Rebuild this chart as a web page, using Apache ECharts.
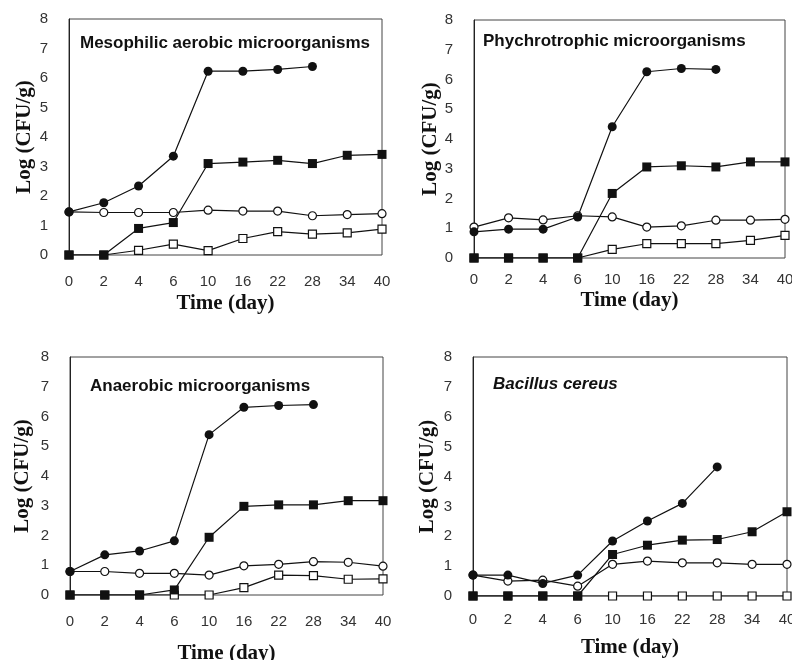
<!DOCTYPE html>
<html>
<head>
<meta charset="utf-8">
<script src="https://cdn.jsdelivr.net/npm/echarts@6/dist/echarts.min.js"></script>
<style>
    html, body { margin: 0; padding: 0; background: #fff; }
    #chart { width: 792px; height: 660px; }
</style>
</head>
<body>
<div id="chart"></div>
<script>
    // x tick labels (storage day)
    var days = ['0', '2', '4', '6', '10', '16', '22', '28', '34', '40'];

    // Mesophilic aerobic
    var mesoFilledCircle = [1.46, 1.77, 2.34, 3.35, 6.23, 6.23, 6.29, 6.39];
    var mesoFilledSquare = [0, 0, 0.90, 1.10, 3.10, 3.15, 3.21, 3.10, 3.38, 3.41];
    var mesoOpenCircle = [1.46, 1.44, 1.44, 1.44, 1.52, 1.49, 1.49, 1.33, 1.37, 1.40];
    var mesoOpenSquare = [0, 0, 0.16, 0.37, 0.15, 0.56, 0.79, 0.71, 0.75, 0.88];

    // Phychrotrophic
    var phyFilledCircle = [0.88, 0.97, 0.97, 1.38, 4.41, 6.26, 6.37, 6.34];
    var phyFilledSquare = [0, 0, 0, 0, 2.17, 3.06, 3.10, 3.06, 3.23, 3.23];
    var phyOpenCircle = [1.04, 1.35, 1.28, 1.42, 1.38, 1.04, 1.08, 1.27, 1.27, 1.30];
    var phyOpenSquare = [0, 0, 0, 0, 0.29, 0.48, 0.48, 0.48, 0.59, 0.76];

    // Anaerobic
    var anaFilledCircle = [0.79, 1.35, 1.48, 1.82, 5.39, 6.31, 6.37, 6.40];
    var anaFilledSquare = [0, 0, 0, 0.17, 1.94, 2.98, 3.03, 3.03, 3.17, 3.17];
    var anaOpenCircle = [0.79, 0.79, 0.73, 0.73, 0.67, 0.98, 1.03, 1.12, 1.10, 0.97];
    var anaOpenSquare = [0, 0, 0, 0, 0, 0.25, 0.67, 0.65, 0.53, 0.54];

    // Bacillus cereus
    var bcFilledCircle = [0.70, 0.70, 0.42, 0.70, 1.84, 2.51, 3.10, 4.32];
    var bcFilledSquare = [0, 0, 0, 0, 1.39, 1.70, 1.87, 1.89, 2.15, 2.82];
    var bcOpenCircle = [0.70, 0.50, 0.53, 0.33, 1.06, 1.17, 1.11, 1.11, 1.06, 1.06];
    var bcOpenSquare = [0, 0, 0, 0, 0, 0, 0, 0, 0, 0];

    var panelTitles = ['Mesophilic aerobic microorganisms', 'Phychrotrophic microorganisms',
        'Anaerobic microorganisms', 'Bacillus cereus'];

    var ink = '#111';

    var panels = [
        { grid: { left: 69, top: 19, width: 313, height: 236 }, nameGap: 38, labelMargin: 19, yGap: 34,
          title: { left: 80, top: 35 }, data: [mesoOpenSquare, mesoOpenCircle, mesoFilledSquare, mesoFilledCircle] },
        { grid: { left: 474, top: 20, width: 311, height: 238 }, nameGap: 32, labelMargin: 14, yGap: 33,
          title: { left: 483, top: 33 }, data: [phyOpenSquare, phyOpenCircle, phyFilledSquare, phyFilledCircle] },
        { grid: { left: 70, top: 357, width: 313, height: 238 }, nameGap: 48, labelMargin: 19, yGap: 37,
          title: { left: 90, top: 378 }, data: [anaOpenSquare, anaOpenCircle, anaFilledSquare, anaFilledCircle] },
        { grid: { left: 473, top: 357, width: 314, height: 239 }, nameGap: 41, labelMargin: 16, yGap: 35,
          title: { left: 493, top: 376 }, data: [bcOpenSquare, bcOpenCircle, bcFilledSquare, bcFilledCircle] }
    ];

    // marker look for each of the four series, in drawing order
    var markers = [
        { symbol: 'rect', size: 8, open: true },
        { symbol: 'circle', size: 8, open: true },
        { symbol: 'rect', size: 9, open: false },
        { symbol: 'circle', size: 9, open: false }
    ];

    var option = { animation: false, grid: [], xAxis: [], yAxis: [], title: [], series: [] };

    for (var i = 0; i < panels.length; i++) {
        var p = panels[i];
        var g = p.grid;
        option.grid.push({
            left: g.left, top: g.top, width: g.width, height: g.height,
            outerBoundsMode: 'none', // keep the plot box where it is, even if labels run past the edge
            show: true, borderColor: '#444', borderWidth: 1, backgroundColor: 'transparent'
        });
        option.xAxis.push({
            type: 'category', gridIndex: i, data: days, boundaryGap: false,
            name: 'Time (day)', nameLocation: 'middle', nameGap: p.nameGap,
            nameTextStyle: { fontFamily: 'Liberation Serif', fontWeight: 'bold', fontSize: 21, color: '#111' },
            axisLine: { show: false }, axisTick: { show: false },
            axisLabel: { fontFamily: 'Liberation Sans', fontSize: 15, color: '#333', margin: p.labelMargin },
            splitLine: { show: false }
        });
        option.yAxis.push({
            type: 'value', gridIndex: i, min: 0, max: 8, interval: 1,
            name: 'Log (CFU/g)', nameLocation: 'middle', nameGap: p.yGap,
            nameTextStyle: { fontFamily: 'Liberation Serif', fontWeight: 'bold', fontSize: 21, color: '#111' },
            axisLine: { show: true, lineStyle: { color: '#222', width: 1 } }, axisTick: { show: false },
            axisLabel: { fontFamily: 'Liberation Sans', fontSize: 15, color: '#333', margin: 21 },
            splitLine: { show: false }
        });
        option.title.push({
            text: panelTitles[i], left: p.title.left, top: p.title.top, padding: 0,
            textStyle: {
                fontFamily: 'Liberation Sans', fontWeight: 'bold', fontSize: 17, color: '#111',
                fontStyle: i === 3 ? 'italic' : 'normal'
            }
        });
        for (var k = 0; k < markers.length; k++) {
            var m = markers[k];
            option.series.push({
                type: 'line', xAxisIndex: i, yAxisIndex: i, data: p.data[k],
                symbol: m.symbol, symbolSize: m.size, showAllSymbol: true,
                lineStyle: { color: ink, width: 1.2 },
                itemStyle: m.open ? { color: '#fff', borderColor: ink, borderWidth: 1.2 } : { color: ink, borderColor: ink, borderWidth: 0 },
                emphasis: { disabled: true }, z: 2 + k
            });
        }
    }

    var myChart = echarts.init(document.getElementById('chart'));
    myChart.setOption(option);
</script>
</body>
</html>
